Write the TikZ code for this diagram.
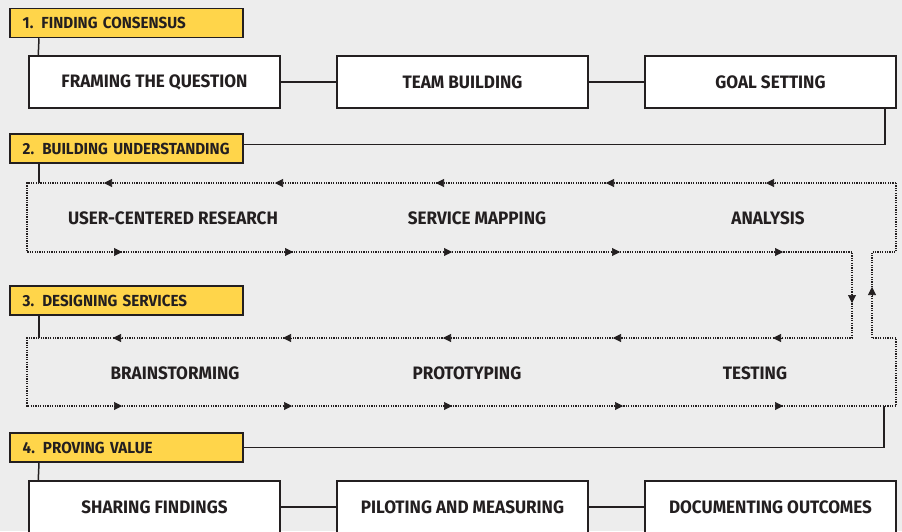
\documentclass[tikz,border=0pt]{standalone}
\usepackage{fontspec}
\newfontfamily\signfont{Fira Sans}[FakeStretch=0.95]
\usetikzlibrary{positioning, arrows.meta}
\definecolor{paper}{HTML}{EDEDED}
\definecolor{phaseyellow}{HTML}{FFD54A}
\definecolor{ink}{HTML}{231F20}

\begin{document}
\begin{tikzpicture}[x=1pt, y=-1pt]
    % Define styles
    \tikzstyle{phase} = [draw=ink, line width=1.5pt, fill=phaseyellow, anchor=west, text=ink,
        minimum height=29pt, inner xsep=13pt, text width=207pt, align=left,
        font=\signfont\bfseries\fontsize{16}{16}\selectfont]
    \tikzstyle{stepbox} = [draw=ink, line width=1.5pt, fill=white, text=ink,
        minimum width=251pt, minimum height=52pt,
        font=\signfont\bfseries\fontsize{18}{18}\selectfont]
    \tikzstyle{looptext} = [text=ink, font=\signfont\bfseries\fontsize{18}{18}\selectfont]
    \tikzstyle{link} = [draw=ink, line width=1.5pt]
    \tikzstyle{flow} = [draw=ink, line width=1.3pt, dash pattern=on 1.3pt off 1.1pt]
    \tikzstyle{flowtip} = [draw=ink, fill=ink, solid, line width=0.6pt,
        -{Triangle[length=8pt, width=8pt]}]

    % Background
    \path[use as bounding box, fill=paper] (0,0) rectangle (902,531);
    \clip (0,0) rectangle (902,531);

    % Phase 1
    \node[phase] (consensus) at (9,23) {1. FINDING CONSENSUS};
    \node[stepbox] (framing) at (154.5,82) {FRAMING THE QUESTION};
    \node[stepbox, right=55.5pt of framing] (team) {TEAM BUILDING};
    \node[stepbox, right=55.5pt of team] (goal) {GOAL SETTING};

    % Phase 2 and 3
    \node[phase] (understanding) at (9,148.5) {2. BUILDING UNDERSTANDING};
    \node[phase] (designing) at (9,300.5) {3. DESIGNING SERVICES};
    \coordinate (loopA) at (39,183);
    \coordinate (loopB) at (39,338);
    \coordinate (loopC) at (884,406);

    \node[looptext] (research) at (173,218) {USER-CENTERED RESEARCH};
    \node[looptext] (mapping) at (477,218) {SERVICE MAPPING};
    \node[looptext] (analysis) at (768,218) {ANALYSIS};
    \node[looptext] (brainstorm) at (175,373) {BRAINSTORMING};
    \node[looptext] (prototype) at (467,373) {PROTOTYPING};
    \node[looptext] (testing) at (755,373) {TESTING};

    % Phase 4
    \node[phase] (proving) at (9,447.5) {4. PROVING VALUE};
    \node[stepbox] (sharing) at (154.5,507) {SHARING FINDINGS};
    \node[stepbox, right=55.5pt of sharing] (piloting) {PILOTING AND MEASURING};
    \node[stepbox, right=55.5pt of piloting] (documenting) {DOCUMENTING OUTCOMES};

    % Iteration loop
    \draw[flow] (896,183) -- (27,183) -- (27,252) -- (852,252) -- (852,338)
        -- (27,338) -- (27,406) -- (896,406) -- (896,338) -- (872,338)
        -- (872,252) -- (896,252) -- cycle;
    \foreach \x in {766,606,436,275,104} {
        \draw[flowtip] (\x+8,183) -- (\x,183);
    }
    \foreach \x in {122,293,452,620,783} {
        \draw[flowtip] (\x-8,252) -- (\x,252);
    }
    \foreach \x in {773,613,443,283,113} {
        \draw[flowtip] (\x+8,338) -- (\x,338);
    }
    \foreach \x in {122,292,452,623,783} {
        \draw[flowtip] (\x-8,406) -- (\x,406);
    }
    \draw[flowtip] (852,295) -- (852,303);
    \draw[flowtip] (872,295) -- (872,287);

    % Connectors
    \draw[link] ([xshift=30pt]consensus.south west) -- ([xshift=10pt]framing.north west);
    \draw[link] (framing) -- (team);
    \draw[link] (team) -- (goal);
    \draw[link] ([xshift=-12pt]goal.south east) |- ([yshift=4pt]understanding.east);
    \draw[link] ([xshift=30pt]understanding.south west) -- (loopA);
    \draw[link] ([xshift=30pt]designing.south west) -- (loopB);
    \draw[link] (loopC) |- (proving);
    \draw[link] ([xshift=30pt]proving.south west) -- ([xshift=10pt]sharing.north west);
    \draw[link] (sharing) -- (piloting);
    \draw[link] (piloting) -- (documenting);
\end{tikzpicture}
\end{document}
